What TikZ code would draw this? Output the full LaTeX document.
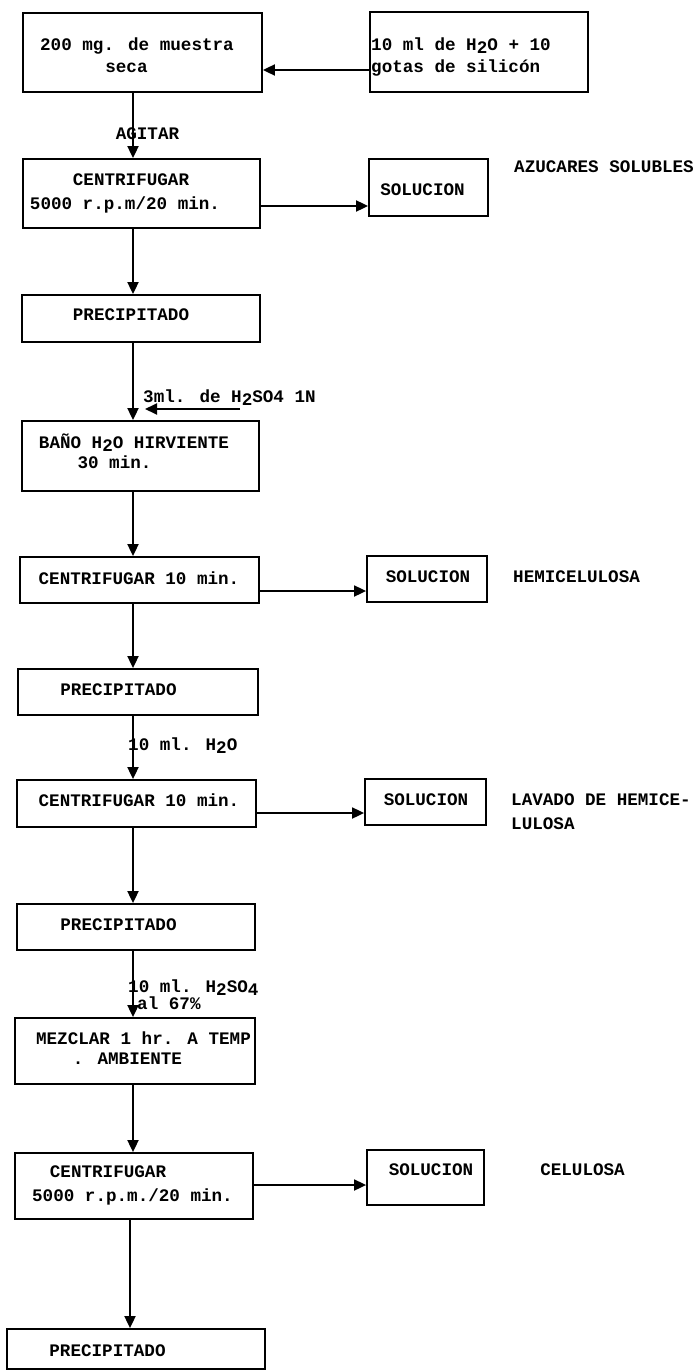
\documentclass[tikz,border=0pt]{standalone}
\usepackage{fontspec}
\newfontfamily\tw{Liberation Mono}
\usetikzlibrary{arrows.meta}
\newcommand\lowch[1]{\raisebox{-0.35ex}{#1}}
\newcommand\boxnode[5]{\node[box, minimum width=#4pt-#2pt, minimum height=#5pt-#3pt] (#1) at ({(#2+#4)/2},{(#3+#5)/2}) {};}
\tikzset{
  box/.style={draw, line width=1.8pt, inner sep=0pt, rectangle},
  arr/.style={line width=1.8pt, -{Triangle[length=12pt,width=11pt]}},
  lbl/.style={font=\tw\bfseries\fontsize{17.6}{22}\selectfont, inner sep=0pt, anchor=mid},
  lblw/.style={lbl, anchor=mid west},
}
\begin{document}
\begin{tikzpicture}[x=1pt,y=-1pt]
\useasboundingbox (0,0) rectangle (697,1372);
% boxes
\boxnode{b1}{23}{13}{262}{92}
\boxnode{b2}{370}{12}{588}{92}
\boxnode{c1}{23}{159}{260}{228}
\boxnode{s1}{369}{159}{488}{216}
\boxnode{p1}{22}{295}{260}{342}
\boxnode{ba}{22}{421}{259}{491}
\boxnode{c2}{20}{557}{259}{603}
\boxnode{s2}{367}{556}{487}{602}
\boxnode{p2}{18}{669}{258}{715}
\boxnode{c3}{17}{780}{256}{827}
\boxnode{s3}{365}{779}{486}{825}
\boxnode{p3}{17}{904}{255}{950}
\boxnode{mz}{15}{1018}{255}{1084}
\boxnode{c4}{15}{1153}{253}{1219}
\boxnode{s4}{367}{1150}{484}{1205}
\boxnode{p4}{7}{1329}{265}{1369}
% texts
\node[lbl] (t1a) at (137,48) {200 mg. de muestra};
\node[lbl] (t1b) at (126.5,70) {seca};
\node[lblw] (t2a) at (371,48) {10 ml de H\lowch{2}O + 10};
\node[lblw] (t2b) at (371,70) {gotas de silicón};
\node[lbl] (tag) at (147.5,137) {AGITAR};
\node[lbl] (tc1a) at (131,183) {CENTRIFUGAR};
\node[lbl] (tc1b) at (125,207) {5000 r.p.m/20 min.};
\node[lbl] (ts1) at (422.5,193) {SOLUCION};
\node[lbl] (taz) at (604,170) {AZUCARES SOLUBLES};
\node[lbl] (tp1) at (131,318) {PRECIPITADO};
\node[lblw] (t3ml) at (143,400) {3ml. de H\lowch{2}SO4 1N};
\node[lbl] (tbaa) at (134,446) {BAÑO H\lowch{2}O HIRVIENTE};
\node[lbl] (tbab) at (114.5,466) {30 min.};
\node[lbl] (tc2) at (139,582) {CENTRIFUGAR 10 min.};
\node[lbl] (ts2) at (428,580) {SOLUCION};
\node[lblw] (thc) at (513,580) {HEMICELULOSA};
\node[lbl] (tp2) at (118.5,693) {PRECIPITADO};
\node[lblw] (th2o) at (128,748) {10 ml. H\lowch{2}O};
\node[lbl] (tc3) at (139,804) {CENTRIFUGAR 10 min.};
\node[lbl] (ts3) at (426,803) {SOLUCION};
\node[lblw] (tlva) at (511,803) {LAVADO DE HEMICE-};
\node[lblw] (tlvb) at (511,827) {LULOSA};
\node[lbl] (tp3) at (118.5,928) {PRECIPITADO};
\node[lblw] (tsoa) at (128,990) {10 ml. H\lowch{2}SO\lowch{4}};
\node[lblw] (tsob) at (137,1007) {al 67\%};
\node[lbl] (tmza) at (143.5,1042) {MEZCLAR 1 hr. A TEMP};
\node[lbl] (tmzb) at (127.5,1062) {. AMBIENTE};
\node[lbl] (tc4a) at (108,1175) {CENTRIFUGAR};
\node[lbl] (tc4b) at (132.5,1199) {5000 r.p.m./20 min.};
\node[lbl] (ts4) at (431,1173) {SOLUCION};
\node[lbl] (tcel) at (582.5,1173) {CELULOSA};
\node[lbl] (tp4) at (107.5,1354) {PRECIPITADO};
% connectors
\draw[arr] (b2.west |- 0,70) -- (b1.east |- 0,70);
\draw[arr] (b1.south -| 133,0) -- (c1.north -| 133,0);
\draw[arr] (c1.east |- 0,206) -- (s1.west |- 0,206);
\draw[arr] (c1.south -| 133,0) -- (p1.north -| 133,0);
\draw[arr] (p1.south -| 133,0) -- (ba.north -| 133,0);
\coordinate (a3ml) at (240,409);
\draw[arr] (a3ml) -- (a3ml -| 145,0);
\draw[arr] (ba.south -| 133,0) -- (c2.north -| 133,0);
\draw[arr] (c2.east |- 0,591) -- (s2.west |- 0,591);
\draw[arr] (c2.south -| 133,0) -- (p2.north -| 133,0);
\draw[arr] (p2.south -| 133,0) -- (c3.north -| 133,0);
\draw[arr] (c3.east |- 0,813) -- (s3.west |- 0,813);
\draw[arr] (c3.south -| 133,0) -- (p3.north -| 133,0);
\draw[arr] (p3.south -| 133,0) -- (mz.north -| 133,0);
\draw[arr] (mz.south -| 133,0) -- (c4.north -| 133,0);
\draw[arr] (c4.east |- 0,1185) -- (s4.west |- 0,1185);
\draw[arr] (c4.south -| 130,0) -- (p4.north -| 130,0);
\end{tikzpicture}
\end{document}
